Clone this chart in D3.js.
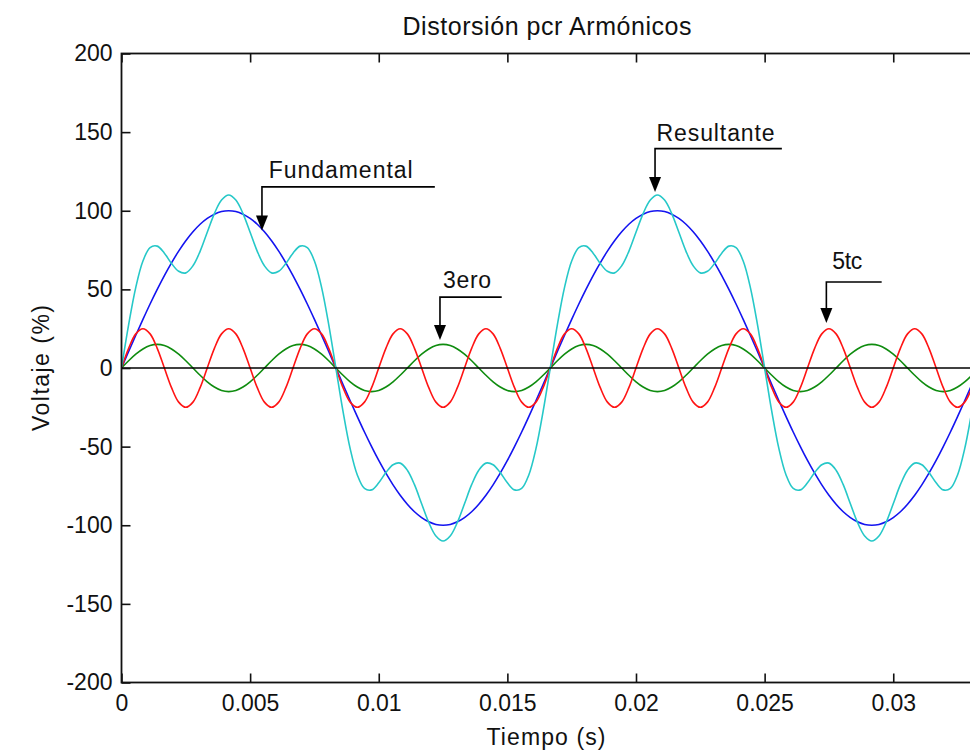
<!DOCTYPE html>
<html>
<head>
<meta charset="utf-8">
<script src="https://cdn.jsdelivr.net/npm/d3@7"></script>
<style>
  html, body { margin: 0; padding: 0; background: #fff; }
  svg { display: block; }
  text { font-family: "Liberation Sans", Arial, sans-serif; fill: #111; }
</style>
</head>
<body>
<svg id="chart" width="970" height="752"></svg>
<script>
// ---------------- DATA ----------------
const sampleStep = 1 / 3600;           // seconds between samples (k = 0..120)
const fundamental = [
  0, 10.5, 20.8, 30.9, 40.7, 50, 58.8, 66.9, 74.3, 80.9, 86.6, 91.4, 95.1, 97.8, 99.5,
  100, 99.5, 97.8, 95.1, 91.4, 86.6, 80.9, 74.3, 66.9, 58.8, 50, 40.7, 30.9, 20.8, 10.5,
  0, -10.5, -20.8, -30.9, -40.7, -50, -58.8, -66.9, -74.3, -80.9, -86.6, -91.4, -95.1, -97.8, -99.5,
  -100, -99.5, -97.8, -95.1, -91.4, -86.6, -80.9, -74.3, -66.9, -58.8, -50, -40.7, -30.9, -20.8, -10.5,
  0, 10.5, 20.8, 30.9, 40.7, 50, 58.8, 66.9, 74.3, 80.9, 86.6, 91.4, 95.1, 97.8, 99.5,
  100, 99.5, 97.8, 95.1, 91.4, 86.6, 80.9, 74.3, 66.9, 58.8, 50, 40.7, 30.9, 20.8, 10.5,
  0, -10.5, -20.8, -30.9, -40.7, -50, -58.8, -66.9, -74.3, -80.9, -86.6, -91.4, -95.1, -97.8, -99.5,
  -100, -99.5, -97.8, -95.1, -91.4, -86.6, -80.9, -74.3, -66.9, -58.8, -50, -40.7, -30.9, -20.8, -10.5,
  0
];
const third = [
  0, 4.6, 8.8, 12.1, 14.3, 15, 14.3, 12.1, 8.8, 4.6, 0, -4.6, -8.8, -12.1, -14.3, -15, -14.3, -12.1, -8.8, -4.6,
  0, 4.6, 8.8, 12.1, 14.3, 15, 14.3, 12.1, 8.8, 4.6, 0, -4.6, -8.8, -12.1, -14.3, -15, -14.3, -12.1, -8.8, -4.6,
  0, 4.6, 8.8, 12.1, 14.3, 15, 14.3, 12.1, 8.8, 4.6, 0, -4.6, -8.8, -12.1, -14.3, -15, -14.3, -12.1, -8.8, -4.6,
  0, 4.6, 8.8, 12.1, 14.3, 15, 14.3, 12.1, 8.8, 4.6, 0, -4.6, -8.8, -12.1, -14.3, -15, -14.3, -12.1, -8.8, -4.6,
  0, 4.6, 8.8, 12.1, 14.3, 15, 14.3, 12.1, 8.8, 4.6, 0, -4.6, -8.8, -12.1, -14.3, -15, -14.3, -12.1, -8.8, -4.6,
  0, 4.6, 8.8, 12.1, 14.3, 15, 14.3, 12.1, 8.8, 4.6, 0, -4.6, -8.8, -12.1, -14.3, -15, -14.3, -12.1, -8.8, -4.6,
  0
];
const fifth = [
  0, 12.5, 21.7, 25, 21.7, 12.5, 0, -12.5, -21.7, -25, -21.7, -12.5,
  0, 12.5, 21.7, 25, 21.7, 12.5, 0, -12.5, -21.7, -25, -21.7, -12.5,
  0, 12.5, 21.7, 25, 21.7, 12.5, 0, -12.5, -21.7, -25, -21.7, -12.5,
  0, 12.5, 21.7, 25, 21.7, 12.5, 0, -12.5, -21.7, -25, -21.7, -12.5,
  0, 12.5, 21.7, 25, 21.7, 12.5, 0, -12.5, -21.7, -25, -21.7, -12.5,
  0, 12.5, 21.7, 25, 21.7, 12.5, 0, -12.5, -21.7, -25, -21.7, -12.5,
  0, 12.5, 21.7, 25, 21.7, 12.5, 0, -12.5, -21.7, -25, -21.7, -12.5,
  0, 12.5, 21.7, 25, 21.7, 12.5, 0, -12.5, -21.7, -25, -21.7, -12.5,
  0, 12.5, 21.7, 25, 21.7, 12.5, 0, -12.5, -21.7, -25, -21.7, -12.5,
  0, 12.5, 21.7, 25, 21.7, 12.5, 0, -12.5, -21.7, -25, -21.7, -12.5,
  0
];
const resultant = [
  0, 27.6, 51.3, 68.0, 76.6, 77.5, 73.0, 66.5, 61.5, 60.5, 65.0, 74.2, 86.3, 98.2, 106.8,
  110, 106.8, 98.2, 86.3, 74.2, 65.0, 60.5, 61.5, 66.5, 73.0, 77.5, 76.6, 68.0, 51.3, 27.6,
  0, -27.6, -51.3, -68.0, -76.6, -77.5, -73.0, -66.5, -61.5, -60.5, -65.0, -74.2, -86.3, -98.2, -106.8,
  -110, -106.8, -98.2, -86.3, -74.2, -65.0, -60.5, -61.5, -66.5, -73.0, -77.5, -76.6, -68.0, -51.3, -27.6,
  0, 27.6, 51.3, 68.0, 76.6, 77.5, 73.0, 66.5, 61.5, 60.5, 65.0, 74.2, 86.3, 98.2, 106.8,
  110, 106.8, 98.2, 86.3, 74.2, 65.0, 60.5, 61.5, 66.5, 73.0, 77.5, 76.6, 68.0, 51.3, 27.6,
  0, -27.6, -51.3, -68.0, -76.6, -77.5, -73.0, -66.5, -61.5, -60.5, -65.0, -74.2, -86.3, -98.2, -106.8,
  -110, -106.8, -98.2, -86.3, -74.2, -65.0, -60.5, -61.5, -66.5, -73.0, -77.5, -76.6, -68.0, -51.3, -27.6,
  0
];
const xTicks = [0, 0.005, 0.01, 0.015, 0.02, 0.025, 0.03];
const xTickLabels = ["0", "0.005", "0.01", "0.015", "0.02", "0.025", "0.03"];
const yTicks = [-200, -150, -100, -50, 0, 50, 100, 150, 200];
const yTickLabels = ["-200", "-150", "-100", "-50", "0", "50", "100", "150", "200"];
const xDomain = [0, 1 / 30];
const yDomain = [-200, 200];
const titleText = "Distorsión pcr Armónicos";
const xLabelText = "Tiempo (s)";
const yLabelText = "Voltaje (%)";
// annotations: arrow x (s), horizontal-line y, arrow tip y, line end x, text anchor
const annotations = [
  { label: "Fundamental", t: 0.00546, yLine: 115.2, yTip: 87.5, tEnd: 0.01218, tText: 0.00572, yText: 120.8 },
  { label: "Resultante",  t: 0.02074, yLine: 139.5, yTip: 112.0, tEnd: 0.02567, tText: 0.02080, yText: 144.2 },
  { label: "3ero",        t: 0.01238, yLine: 45.1,  yTip: 17.8,  tEnd: 0.01478, tText: 0.01250, yText: 50.9 },
  { label: "5tc",         t: 0.02740, yLine: 54.7,  yTip: 28.6,  tEnd: 0.02955, tText: 0.02763, yText: 62.9 }
];
const annotationWidths = [144, 118, 48, 30];

// ---------------- LAYOUT ----------------
const mLeft = 121.5, mRight = 979, mTop = 53.5, mBottom = 682.5;
const svg = d3.select("#chart");
const x = d3.scaleLinear().domain(xDomain).range([mLeft, mRight]);
const y = d3.scaleLinear().domain(yDomain).range([mBottom, mTop]);

const series = [
  { values: fundamental, color: "#1414f0" },
  { values: third,       color: "#0f8c0f" },
  { values: fifth,       color: "#ff1414" },
  { values: resultant,   color: "#26c8c8" }
];

svg.append("defs").append("clipPath").attr("id", "plotclip")
  .append("rect").attr("x", mLeft).attr("y", mTop).attr("width", mRight - mLeft).attr("height", mBottom - mTop);

const line = d3.line()
  .x((d, i) => x(i * sampleStep))
  .y(d => y(d))
  .curve(d3.curveCatmullRom.alpha(0.5));

const plot = svg.append("g").attr("clip-path", "url(#plotclip)");
series.forEach(s => {
  plot.append("path")
    .datum(s.values)
    .attr("d", line)
    .attr("fill", "none")
    .attr("stroke", s.color)
    .attr("stroke-width", 1.6)
    .attr("stroke-linejoin", "round");
});

// zero line
plot.append("line")
  .attr("x1", x(xDomain[0])).attr("x2", x(xDomain[1]))
  .attr("y1", y(0)).attr("y2", y(0))
  .attr("stroke", "#000").attr("stroke-width", 1.6);

// axes (ticks inward, MATLAB style)
const fontSize = 23;
const gx = svg.append("g").attr("transform", `translate(0,${mBottom})`)
  .call(d3.axisBottom(x).tickValues(xTicks).tickFormat((d, i) => xTickLabels[i]).tickSize(-9).tickPadding(12));
const gxTop = svg.append("g").attr("transform", `translate(0,${mTop})`)
  .call(d3.axisTop(x).tickValues(xTicks).tickFormat("").tickSize(-9));
const gy = svg.append("g").attr("transform", `translate(${mLeft},0)`)
  .call(d3.axisLeft(y).tickValues(yTicks).tickFormat((d, i) => yTickLabels[i]).tickSize(-9).tickPadding(9));
const gyRight = svg.append("g").attr("transform", `translate(${mRight},0)`)
  .call(d3.axisRight(y).tickValues(yTicks).tickFormat("").tickSize(-9));

[gx, gxTop, gy, gyRight].forEach(g => {
  g.select(".domain").remove();
  g.selectAll(".tick line").attr("stroke", "#111").attr("stroke-width", 1.6);
  g.selectAll(".tick text")
    .attr("font-size", fontSize)
    .attr("font-family", "Liberation Sans, Arial, sans-serif")
    .attr("fill", "#111");
});

// frame
svg.append("rect")
  .attr("x", mLeft).attr("y", mTop).attr("width", mRight - mLeft).attr("height", mBottom - mTop)
  .attr("fill", "none").attr("stroke", "#111").attr("stroke-width", 1.8);

// annotations
const ann = svg.append("g");
annotations.forEach((a, i) => {
  const ax = x(a.t), ayL = y(a.yLine), ayT = y(a.yTip);
  ann.append("polyline")
    .attr("points", `${x(a.tEnd)},${ayL} ${ax},${ayL} ${ax},${ayT - 10}`)
    .attr("fill", "none").attr("stroke", "#000").attr("stroke-width", 1.6);
  ann.append("path")
    .attr("d", `M${ax - 6},${ayT - 15} L${ax + 6},${ayT - 15} L${ax},${ayT} Z`)
    .attr("fill", "#000");
  ann.append("text")
    .attr("x", x(a.tText)).attr("y", y(a.yText))
    .attr("font-size", 23)
    .attr("textLength", annotationWidths[i])
    .attr("lengthAdjust", "spacing")
    .text(a.label);
});

// title and axis labels
svg.append("text")
  .attr("x", 547).attr("y", 35)
  .attr("text-anchor", "middle")
  .attr("font-size", 25)
  .attr("textLength", 289)
  .attr("lengthAdjust", "spacing")
  .text(titleText);

svg.append("text")
  .attr("x", 546).attr("y", 745)
  .attr("text-anchor", "middle")
  .attr("font-size", 23)
  .attr("textLength", 119)
  .attr("lengthAdjust", "spacing")
  .text(xLabelText);

svg.append("text")
  .attr("transform", `translate(49,${y(0)}) rotate(-90)`)
  .attr("text-anchor", "middle")
  .attr("font-size", 23)
  .attr("textLength", 126)
  .attr("lengthAdjust", "spacing")
  .text(yLabelText);
</script>
</body>
</html>
